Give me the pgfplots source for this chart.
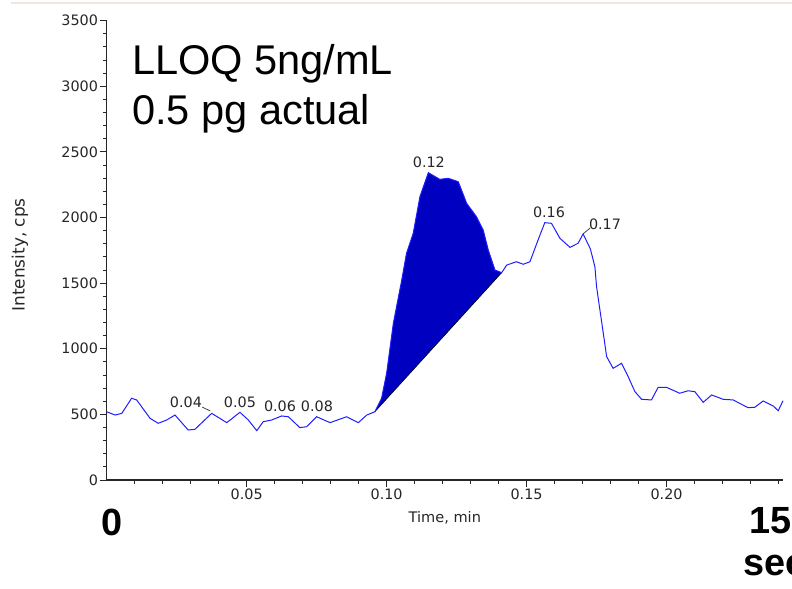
\documentclass[border=0pt]{standalone}
\usepackage{fontspec}
\setmainfont{DejaVu Sans}
\newfontfamily\lib{Liberation Sans}
\usepackage{pgfplots}
\pgfplotsset{compat=1.18}
\definecolor{curveblue}{RGB}{30,30,255}
\definecolor{fillblue}{RGB}{0,0,192}
\definecolor{beige}{RGB}{238,232,215}
\begin{document}
\begin{tikzpicture}
\useasboundingbox (-106.7bp,-109bp) rectangle (685.3bp,480bp);
\draw[beige, line width=1.2bp] (-96bp,477bp) -- (685.3bp,477bp);
\begin{axis}[
  at={(0,0)}, anchor=south west,
  scale only axis, width=676.3bp, height=459.3bp,
  xmin=0, xmax=0.2416, ymin=0, ymax=3500,
  axis x line=bottom, axis y line=left,
  axis line style={-, line width=1.2bp, black!85},
  tick align=outside,
  major tick length=7bp, minor tick length=3.5bp,
  tick style={black!85, line width=0.9bp},
  xtick={0.05,0.10,0.15,0.20},
  minor xtick={0.01,0.02,0.03,0.04,0.06,0.07,0.08,0.09,0.11,0.12,0.13,0.14,0.16,0.17,0.18,0.19,0.21,0.22,0.23,0.24},
  ytick={0,500,1000,1500,2000,2500,3000,3500},
  minor ytick={100,200,300,400,600,700,800,900,1100,1200,1300,1400,1600,1700,1800,1900,2100,2200,2300,2400,2600,2700,2800,2900,3100,3200,3300,3400},
  xticklabel style={/pgf/number format/fixed, /pgf/number format/fixed zerofill, /pgf/number format/precision=2, inner sep=2bp},
  yticklabel style={/pgf/number format/fixed, /pgf/number format/1000 sep={}, inner sep=1.5bp},
  /pgf/number format/assume math mode=true,
  tick label style={font=\fontsize{14.4}{16}\selectfont, text=black!85},
  xlabel={Time, min},
  ylabel={Intensity, cps},
  xlabel style={at={(axis description cs:0.5,-0.0827)}, anchor=center, font=\fontsize{14.6}{16}\selectfont, text=black!85},
  ylabel style={at={(axis description cs:-0.1282,0.49)}, anchor=center, font=\fontsize{17}{19}\selectfont, text=black!85},
  clip=false,
]
\addplot[fill=fillblue, draw=none] coordinates {
(0.0958,520) (0.0982,623) (0.1000,813) (0.1024,1194) (0.1054,1524) (0.1071,1727)
(0.1095,1880) (0.1119,2159) (0.1149,2342) (0.1190,2291) (0.1220,2299) (0.1256,2273)
(0.1286,2108) (0.1321,2006) (0.1345,1905) (0.1363,1753) (0.1387,1600) (0.1411,1580)
} -- cycle;
\addplot[black, line width=0.6bp] coordinates {(0.0958,520) (0.1411,1580)};
\addplot[curveblue, line width=1bp] coordinates {
(0,520) (0.0030,495) (0.0054,508) (0.0089,623) (0.0107,610) (0.0155,470)
(0.0184,432) (0.0214,457) (0.0244,495) (0.0291,381) (0.0315,386) (0.0375,508)
(0.0429,437) (0.0476,516) (0.0506,457) (0.0536,376) (0.0559,444) (0.0589,457)
(0.0625,488) (0.0649,482) (0.0690,399) (0.0714,406) (0.0750,482) (0.0798,437)
(0.0857,482) (0.0899,437) (0.0929,495) (0.0958,520) (0.0982,623) (0.1000,813)
(0.1024,1194) (0.1054,1524) (0.1071,1727) (0.1095,1880) (0.1119,2159) (0.1149,2342)
(0.1190,2291) (0.1220,2299) (0.1256,2273) (0.1286,2108) (0.1321,2006) (0.1345,1905)
(0.1363,1753) (0.1387,1600) (0.1411,1580) (0.1429,1638) (0.1464,1663) (0.1488,1644)
(0.1512,1663) (0.1541,1829) (0.1565,1961) (0.1589,1956) (0.1619,1842) (0.1655,1773)
(0.1684,1804) (0.1702,1875) (0.1728,1760) (0.1744,1625) (0.1750,1473) (0.1762,1295)
(0.1774,1118) (0.1786,940) (0.1809,851) (0.1839,889) (0.1863,787) (0.1887,673)
(0.1911,615) (0.1946,610) (0.1970,706) (0.2000,706) (0.2047,661) (0.2077,680)
(0.2101,673) (0.2131,592) (0.2161,648) (0.2202,615) (0.2238,610) (0.2291,551)
(0.2315,554) (0.2345,602) (0.2381,564) (0.2399,528) (0.2416,604)
};
\begin{scope}[every node/.style={font=\fontsize{14.4}{16}\selectfont, inner sep=0pt, text=black!85}]
\node at (axis cs:0.0283,591) {0.04};
\node at (axis cs:0.0476,594) {0.05};
\node at (axis cs:0.0619,564) {0.06};
\node at (axis cs:0.0751,564) {0.08};
\node at (axis cs:0.1151,2419) {0.12};
\node at (axis cs:0.1580,2042) {0.16};
\node at (axis cs:0.1780,1951) {0.17};
\end{scope}
\draw[black!80, line width=0.7bp] (axis cs:0.0341,556) -- (axis cs:0.0370,526);
\draw[black!80, line width=0.7bp] (axis cs:0.1702,1875) -- (axis cs:0.1727,1921);
\end{axis}
\node[anchor=base west, inner sep=0pt, font=\lib\fontsize{41.7}{50}\selectfont] at (25.3bp,405bp) {LLOQ 5ng/mL};
\node[anchor=base west, inner sep=0pt, font=\lib\fontsize{41.7}{50}\selectfont] at (25.3bp,355bp) {0.5 pg actual};
\node[anchor=base west, inner sep=0pt, font=\lib\bfseries\fontsize{38}{42}\selectfont] at (-5.2bp,-55bp) {0};
\node[anchor=base west, inner sep=0pt, font=\lib\bfseries\fontsize{38}{42}\selectfont] at (642.3bp,-53bp) {15};
\node[anchor=base west, inner sep=0pt, font=\lib\bfseries\fontsize{38}{42}\selectfont] at (636.3bp,-95bp) {sec};
\end{tikzpicture}
\end{document}
